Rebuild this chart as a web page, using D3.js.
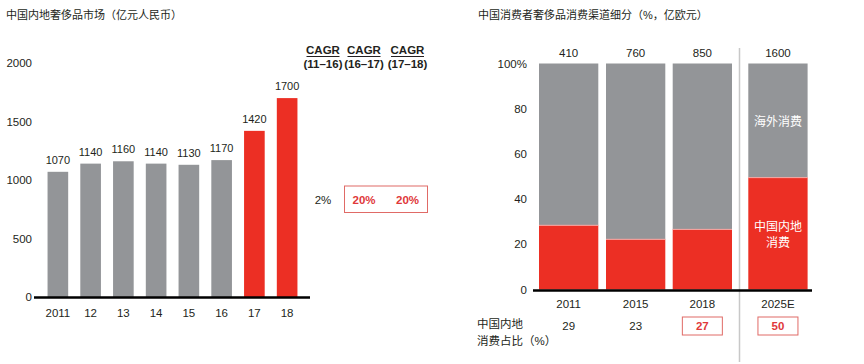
<!DOCTYPE html>
<html>
<head>
<meta charset="utf-8">
<script src="https://cdn.jsdelivr.net/npm/d3@7"></script>
<style>
  body { margin: 0; background: #fff; }
  text { font-family: "Liberation Sans", Arial, "Noto Sans CJK SC", sans-serif; fill: #231f20; }
</style>
</head>
<body>
<script>
// Left chart data
const years = ["2011", "12", "13", "14", "15", "16", "17", "18"];
const market = [1070, 1140, 1160, 1140, 1130, 1170, 1420, 1700];
const leftTicks = [0, 500, 1000, 1500, 2000];
const cagrHeads = ["(11–16)", "(16–17)", "(17–18)"];
const cagrValues = ["2%", "20%", "20%"];

// Right chart data
const periods = ["2011", "2015", "2018", "2025E"];
const totals = [410, 760, 850, 1600];
const domesticShare = [28.4, 22.2, 26.6, 49.5];
const shareLabels = ["29", "23", "27", "50"];
const rightTicks = [0, 20, 40, 60, 80, 100];

const gray = "#939598";
const red = "#ec2f24";

const width = 864, height = 364;
const svg = d3.select("body").append("svg")
    .attr("width", width)
    .attr("height", height);

// ---------- Left chart ----------
svg.append("text").attr("x", 6).attr("y", 19).attr("font-size", 11)
    .text("中国内地奢侈品市场（亿元人民币）");

const yL = d3.scaleLinear().domain([0, 2000]).range([297, 63]);
const xL = d3.scaleBand().domain(years).range([41, 304]).paddingInner(0.37).paddingOuter(0.2);

const gL = svg.append("g");
gL.append("g")
    .attr("transform", "translate(32,0)")
    .call(d3.axisLeft(yL).tickValues(leftTicks).tickSize(0).tickPadding(0).tickFormat(d3.format("d")))
    .call(g => g.select(".domain").remove())
    .call(g => g.selectAll("text").attr("font-size", 11.5).attr("fill", "#231f20"));

gL.selectAll("rect").data(market).join("rect")
    .attr("x", (d, i) => xL(years[i]))
    .attr("y", d => yL(d))
    .attr("width", xL.bandwidth())
    .attr("height", d => yL(0) - yL(d))
    .attr("fill", (d, i) => i >= 6 ? red : gray);

gL.selectAll(".val").data(market).join("text")
    .attr("x", (d, i) => xL(years[i]) + xL.bandwidth() / 2)
    .attr("y", d => yL(d) - 8)
    .attr("text-anchor", "middle")
    .attr("font-size", 11)
    .text(d => d);

gL.append("line").attr("x1", 34).attr("x2", 310)
    .attr("y1", yL(0) + 0.5).attr("y2", yL(0) + 0.5)
    .attr("stroke", "#000").attr("stroke-width", 2.5);

gL.selectAll(".yr").data(years).join("text")
    .attr("x", d => xL(d) + xL.bandwidth() / 2)
    .attr("y", 317)
    .attr("text-anchor", "middle")
    .attr("font-size", 11.5)
    .text(d => d);

// CAGR block
const cagrX = [323, 364, 407.5];
cagrX.forEach((cx, i) => {
  svg.append("text").attr("x", cx).attr("y", 54).attr("text-anchor", "middle")
      .attr("font-size", 11.5).attr("font-weight", "bold").text("CAGR");
  svg.append("line").attr("x1", cx - 16.5).attr("x2", cx + 16.5)
      .attr("y1", 56.5).attr("y2", 56.5).attr("stroke", "#231f20").attr("stroke-width", 1);
  svg.append("text").attr("x", cx).attr("y", 68).attr("text-anchor", "middle")
      .attr("font-size", 11.5).attr("font-weight", "bold").text(cagrHeads[i]);
  svg.append("text").attr("x", cx).attr("y", 203.5).attr("text-anchor", "middle")
      .attr("font-size", 11.5)
      .attr("font-weight", i > 0 ? "bold" : "normal")
      .style("fill", i > 0 ? "#e0383a" : "#231f20")
      .text(cagrValues[i]);
});
svg.append("rect").attr("x", 344.5).attr("y", 186).attr("width", 83).attr("height", 26.5)
    .attr("fill", "none").attr("stroke", "#e06a66").attr("stroke-width", 1);

// ---------- Right chart ----------
svg.append("text").attr("x", 478).attr("y", 19).attr("font-size", 11)
    .text("中国消费者奢侈品消费渠道细分（%，亿欧元）");

const yR = d3.scaleLinear().domain([0, 100]).range([289.5, 63.5]);
const xR = d3.scaleOrdinal().domain(periods).range([539, 606, 672.7, 748.3]);
const bw = 59.3;

const gR = svg.append("g");
gR.append("g")
    .attr("transform", "translate(527,0)")
    .call(d3.axisLeft(yR).tickValues(rightTicks).tickSize(0).tickPadding(0)
        .tickFormat(d => d === 100 ? "100%" : d))
    .call(g => g.select(".domain").remove())
    .call(g => g.selectAll("text").attr("font-size", 11.5).attr("fill", "#231f20"));

// separator
gR.append("line").attr("x1", 739.5).attr("x2", 739.5).attr("y1", 48).attr("y2", 362)
    .attr("stroke", "#c8c8c8").attr("stroke-width", 1.5);

// overseas (gray) then domestic (red)
gR.selectAll(".ov").data(periods).join("rect")
    .attr("x", d => xR(d)).attr("y", yR(100))
    .attr("width", bw).attr("height", (d, i) => yR(domesticShare[i]) - yR(100))
    .attr("fill", gray);
gR.selectAll(".dom").data(periods).join("rect")
    .attr("x", d => xR(d)).attr("y", (d, i) => yR(domesticShare[i]))
    .attr("width", bw).attr("height", (d, i) => yR(0) - yR(domesticShare[i]))
    .attr("fill", red);
gR.selectAll(".edge").data(periods).join("line")
    .attr("x1", d => xR(d)).attr("x2", d => xR(d) + bw)
    .attr("y1", (d, i) => yR(domesticShare[i])).attr("y2", (d, i) => yR(domesticShare[i]))
    .attr("stroke", "#f7a9a4").attr("stroke-width", 1);

gR.selectAll(".tot").data(totals).join("text")
    .attr("x", (d, i) => xR(periods[i]) + bw / 2)
    .attr("y", 57)
    .attr("text-anchor", "middle")
    .attr("font-size", 11.5)
    .text(d => d);

gR.append("line").attr("x1", 533).attr("x2", 812)
    .attr("y1", yR(0) + 1).attr("y2", yR(0) + 1)
    .attr("stroke", "#000").attr("stroke-width", 2.5);

gR.selectAll(".per").data(periods).join("text")
    .attr("x", d => xR(d) + bw / 2)
    .attr("y", 308)
    .attr("text-anchor", "middle")
    .attr("font-size", 11.5)
    .text(d => d);

// in-bar labels for 2025E
const cx25 = xR("2025E") + bw / 2;
[["海外消费", 126], ["中国内地", 231], ["消费", 247]].forEach(([t, y]) => {
  gR.append("text").attr("x", cx25).attr("y", y).attr("text-anchor", "middle")
      .attr("font-size", 12).style("fill", "#fff").text(t);
});

// share row
svg.append("text").attr("x", 477).attr("y", 328).attr("font-size", 11.5).text("中国内地");
svg.append("text").attr("x", 477).attr("y", 345).attr("font-size", 11.5).text("消费占比（%）");

gR.selectAll(".share").data(shareLabels).join("text")
    .attr("x", (d, i) => xR(periods[i]) + bw / 2)
    .attr("y", 330)
    .attr("text-anchor", "middle")
    .attr("font-size", 11.5)
    .attr("font-weight", (d, i) => i >= 2 ? "bold" : "normal")
    .style("fill", (d, i) => i >= 2 ? "#e0383a" : "#231f20")
    .text(d => d);
gR.selectAll(".box").data(periods.slice(2)).join("rect")
    .attr("x", d => xR(d) + bw / 2 - 20)
    .attr("y", 317)
    .attr("width", 40).attr("height", 18)
    .attr("fill", "none").attr("stroke", "#e06a66").attr("stroke-width", 1);
</script>
</body>
</html>
